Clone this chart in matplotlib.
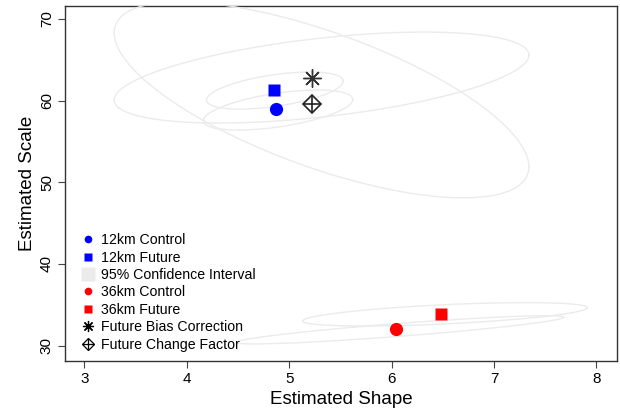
import numpy as np
import matplotlib
matplotlib.use('Agg')
import matplotlib.pyplot as plt
from matplotlib.lines import Line2D

plt.rcParams['font.family'] = ['Liberation Sans', 'DejaVu Sans']

# point estimates (shape, scale)
ctl12 = (4.87, 58.95)
fut12 = (4.85, 61.3)
ctl36 = (6.04, 32.05)
fut36 = (6.48, 33.85)
bias_corr = (5.22, 62.75)
change_fac = (5.22, 59.6)

# 95% confidence ellipses: centre, half-widths and correlation
ci_cx = [4.89, 4.86, 5.315, 5.315, 6.08, 6.52]
ci_cy = [58.85, 61.24, 62.83, 60.1, 31.94, 33.84]
ci_ax = [0.73, 0.667, 2.025, 2.025, 1.60, 1.39]
ci_ay = [2.45, 2.27, 5.57, 12.0, 1.73, 1.43]
ci_r = [0.53, 0.51, 0.494, -0.683, 0.89, 0.57]

legend_labels = ['12km Control', '12km Future', '95% Confidence Interval',
                 '36km Control', '36km Future', 'Future Bias Correction',
                 'Future Change Factor']

fig = plt.figure(figsize=(6.2, 4.11), dpi=100)
ax = fig.add_axes([0.1048, 0.1224, 0.8903, 0.8642])

ci_col = '#EBEBEB'
t = np.linspace(0, 2 * np.pi, 400)
for cx, cy, a, b, r in zip(ci_cx, ci_cy, ci_ax, ci_ay, ci_r):
    ex = cx + a * np.cos(t)
    ey = cy + b * (r * np.cos(t) + np.sqrt(1 - r * r) * np.sin(t))
    ax.plot(ex, ey, color=ci_col, lw=1.0, zorder=3)

ax.plot(*ctl12, 'o', color='#0000FF', ms=9.5, mec='none', zorder=4)
ax.plot(*fut12, 's', color='#0000FF', ms=9.2, mec='none', zorder=4)
ax.plot(*ctl36, 'o', color='#FF0000', ms=9.5, mec='none', zorder=4)
ax.plot(*fut36, 's', color='#FF0000', ms=9.2, mec='none', zorder=4)
# asterisk = plus + cross
ax.plot(*bias_corr, marker=(8, 2, 0), color='#333333', ms=13, mew=1.0, zorder=4)
# diamond with a plus inside
ax.plot(*change_fac, 'D', mfc='none', mec='#222222', ms=9.6, mew=1.2, zorder=4)
ax.plot(*change_fac, '+', color='#222222', ms=13.5, mew=1.2, zorder=4)

handles = [
    Line2D([], [], ls='none', marker='o', color='#0000FF', ms=5.5, mec='none'),
    Line2D([], [], ls='none', marker='s', color='#0000FF', ms=6, mec='none'),
    Line2D([], [], ls='none', marker='s', color='#EBEBEB', ms=9.5, mec='none'),
    Line2D([], [], ls='none', marker='o', color='#FF0000', ms=5.5, mec='none'),
    Line2D([], [], ls='none', marker='s', color='#FF0000', ms=6, mec='none'),
    Line2D([], [], ls='none', marker=(8, 2, 0), color='black', ms=8, mew=0.9),
    (Line2D([], [], ls='none', marker='D', mfc='none', mec='black', ms=6, mew=0.9),
     Line2D([], [], ls='none', marker='+', color='black', ms=8.5, mew=0.9)),
]
ax.legend(handles, legend_labels, loc='upper left',
          bbox_to_anchor=(0.016, 0.375), frameon=False, fontsize=10.2,
          handlelength=1.2, handletextpad=0.35, labelspacing=0.24,
          borderaxespad=0)

ax.set_xlim(2.81, 8.2)
ax.set_ylim(28.16, 71.65)
ax.set_xticks([3, 4, 5, 6, 7, 8])
ax.set_yticks([30, 40, 50, 60, 70])
ax.tick_params(direction='out', length=5, width=0.8, labelsize=11, pad=3,
               color='#444444')
for lab in ax.get_yticklabels():
    lab.set_rotation(90)
    lab.set_va('center')
for s in ax.spines.values():
    s.set_linewidth(1.0)
    s.set_color('#333333')

ax.set_xlabel('Estimated Shape', fontsize=13.5, labelpad=4)
ax.set_ylabel('Estimated Scale', fontsize=13.5, labelpad=3)

fig.savefig('out.png', dpi=100)
